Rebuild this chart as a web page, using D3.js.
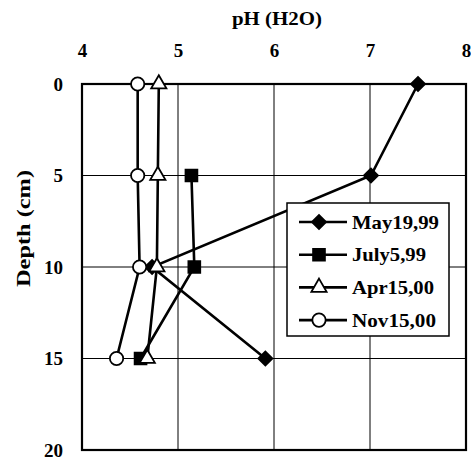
<!DOCTYPE html>
<html>
<head>
<meta charset="utf-8">
<script src="https://cdn.jsdelivr.net/npm/d3@7"></script>
<style>
  body { margin: 0; background: #fff; }
  text { font-family: "Liberation Serif", "DejaVu Serif", serif; font-weight: bold; fill: #000; }
</style>
</head>
<body>
<div id="chart"></div>
<script>
// data
var depths = [0, 5, 10, 15];
var seriesNames = ["May19,99", "July5,99", "Apr15,00", "Nov15,00"];
var may19_99 = [7.50, 7.01, 4.73, 5.91];
var july5_99 = [null, 5.14, 5.17, 4.61];
var apr15_00 = [4.80, 4.79, 4.78, 4.68];
var nov15_00 = [4.58, 4.58, 4.60, 4.36];
var xTicks = [4, 5, 6, 7, 8];
var yTicks = [0, 5, 10, 15, 20];

var width = 471, height = 460;
var pLeft = 82, pRight = 466, pTop = 84, pBottom = 450;

var svg = d3.select("#chart").append("svg")
    .attr("width", width)
    .attr("height", height);

var x = d3.scaleLinear().domain([4, 8]).range([pLeft, pRight]);
var y = d3.scaleLinear().domain([0, 20]).range([pTop, pBottom]);

// gridlines
svg.append("g").selectAll("line")
    .data(xTicks.slice(1, -1))
    .enter().append("line")
    .attr("x1", d => x(d)).attr("x2", d => x(d))
    .attr("y1", pTop).attr("y2", pBottom)
    .attr("stroke", "#000").attr("stroke-width", 1);
svg.append("g").selectAll("line")
    .data(yTicks.slice(1, -1))
    .enter().append("line")
    .attr("x1", pLeft).attr("x2", pRight)
    .attr("y1", d => y(d)).attr("y2", d => y(d))
    .attr("stroke", "#000").attr("stroke-width", 1);

// frame
svg.append("rect")
    .attr("x", pLeft).attr("y", pTop)
    .attr("width", pRight - pLeft).attr("height", pBottom - pTop)
    .attr("fill", "none").attr("stroke", "#000").attr("stroke-width", 2.2);

// axes: only the labels are shown
var xAxis = svg.append("g")
    .attr("transform", "translate(0," + (pTop - 24) + ")")
    .call(d3.axisTop(x).tickValues(xTicks).tickSize(0).tickFormat(d3.format("d")));
xAxis.select(".domain").remove();
xAxis.selectAll("text").style("font-size", "19px")
    .style("font-family", '"Liberation Serif", serif').style("font-weight", "bold");

var yAxis = svg.append("g")
    .attr("transform", "translate(" + (pLeft - 16) + ",0)")
    .call(d3.axisLeft(y).tickValues(yTicks).tickSize(0).tickFormat(d3.format("d")));
yAxis.select(".domain").remove();
yAxis.selectAll("text").style("font-size", "19px")
    .style("font-family", '"Liberation Serif", serif').style("font-weight", "bold")
    .attr("dy", "0.33em");

// axis titles (glyphs in the scan are wider, so stretch them a bit)
svg.append("text")
    .attr("x", 232).attr("y", 25)
    .attr("textLength", 90).attr("lengthAdjust", "spacingAndGlyphs")
    .style("font-size", "18px")
    .text("pH (H2O)");
svg.append("text")
    .attr("transform", "translate(30,287) rotate(-90)")
    .attr("textLength", 117).attr("lengthAdjust", "spacingAndGlyphs")
    .style("font-size", "19px")
    .text("Depth (cm)");

// series
var allSeries = [may19_99, july5_99, apr15_00, nov15_00];
var symbols = [d3.symbolSquare, d3.symbolSquare, d3.symbolTriangle, d3.symbolCircle];
var symSizes = [100, 140, 100, 140];
var rotations = [45, 0, 0, 0];
var fills = ["#000", "#000", "#fff", "#fff"];
var labelLengths = [87, 74, 82, 84];

var line = d3.line()
    .defined(d => d.v != null)
    .x(d => x(d.v))
    .y(d => y(d.depth));

allSeries.forEach(function(vals, i) {
    var pts = depths.map(function(dp, j) { return {depth: dp, v: vals[j]}; });
    svg.append("path")
        .datum(pts)
        .attr("d", line)
        .attr("fill", "none")
        .attr("stroke", "#000")
        .attr("stroke-width", 2.6);
});

allSeries.forEach(function(vals, i) {
    var pts = depths.map(function(dp, j) { return {depth: dp, v: vals[j]}; })
        .filter(d => d.v != null);
    svg.append("g").selectAll("path")
        .data(pts)
        .enter().append("path")
        .attr("transform", d => "translate(" + x(d.v) + "," + y(d.depth) + ") rotate(" + rotations[i] + ")")
        .attr("d", d3.symbol().type(symbols[i]).size(symSizes[i]))
        .attr("fill", fills[i])
        .attr("stroke", "#000")
        .attr("stroke-width", 1.8);
});

// legend
var lg = svg.append("g");
lg.append("rect")
    .attr("x", 287).attr("y", 203)
    .attr("width", 162).attr("height", 133)
    .attr("fill", "#fff").attr("stroke", "#000").attr("stroke-width", 1.5);

seriesNames.forEach(function(name, i) {
    var ly = 222 + i * 32.7;
    lg.append("line")
        .attr("x1", 299).attr("x2", 347)
        .attr("y1", ly).attr("y2", ly)
        .attr("stroke", "#000").attr("stroke-width", 2.6);
    lg.append("path")
        .attr("transform", "translate(319," + ly + ") rotate(" + rotations[i] + ")")
        .attr("d", d3.symbol().type(symbols[i]).size(symSizes[i]))
        .attr("fill", fills[i])
        .attr("stroke", "#000")
        .attr("stroke-width", 1.8);
    lg.append("text")
        .attr("x", 352).attr("y", ly)
        .attr("dy", "0.35em")
        .attr("textLength", labelLengths[i]).attr("lengthAdjust", "spacingAndGlyphs")
        .style("font-size", "19px")
        .text(name);
});
</script>
</body>
</html>
